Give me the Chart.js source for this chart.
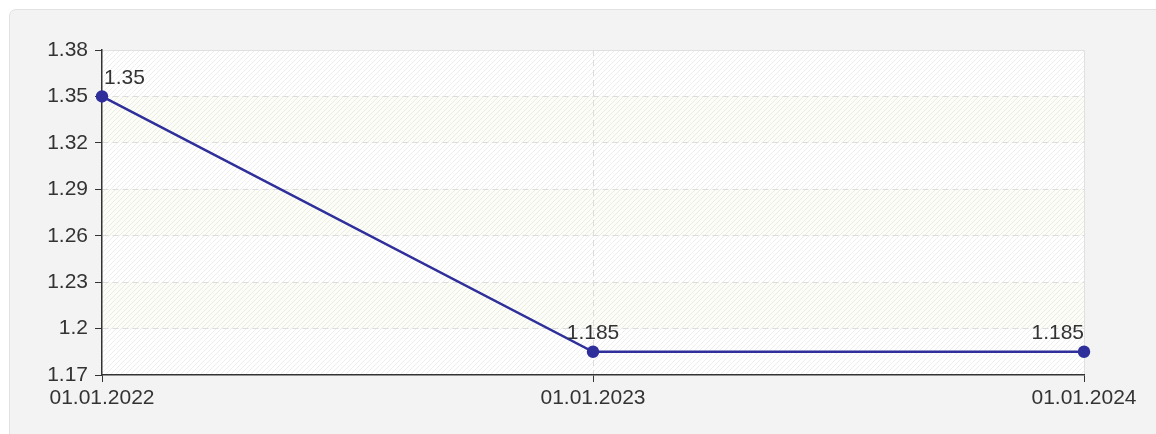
<!DOCTYPE html>
<html>
<head>
<meta charset="utf-8">
<script src="https://cdn.jsdelivr.net/npm/chart.js@4"></script>
<style>
  html, body { margin: 0; padding: 0; background: #fff; }
  #wrap { position: relative; width: 1156px; height: 434px; overflow: hidden; }
  #panel {
    position: absolute; left: 9px; top: 9px; width: 1160px; height: 440px;
    background: #f3f3f3; border: 1px solid #e2e2e2; border-radius: 7px;
  }
  #chart { position: absolute; left: 0; top: 0; }
</style>
</head>
<body>
<div id="wrap">
  <div id="panel"></div>
  <canvas id="chart" width="1156" height="434"></canvas>
</div>
<script>
const dates = ['01.01.2022', '01.01.2023', '01.01.2024'];
const values = [1.35, 1.185, 1.185];
const yTicks = [1.17, 1.2, 1.23, 1.26, 1.29, 1.32, 1.35, 1.38];

const textColor = '#333333';
const lineColor = '#2f2f9c';
const font = { family: '"Liberation Sans", Arial, sans-serif', size: 21 };

// hatch pattern for the plot background
function makeHatch() {
    const c = document.createElement('canvas');
    c.width = 5; c.height = 5;
    const g = c.getContext('2d');
    g.strokeStyle = 'rgba(0,0,0,0.065)';
    g.lineWidth = 1;
    g.beginPath();
    g.moveTo(-1, 6); g.lineTo(6, -1);
    g.stroke();
    return c;
}

const plotBackground = {
    id: 'plotBackground',
    beforeDraw(chart) {
        const { ctx, chartArea: a, scales: { y } } = chart;
        ctx.save();
        // alternating white / faint yellow bands, top band white
        for (let i = 0; i < yTicks.length - 1; i++) {
            const top = y.getPixelForValue(yTicks[yTicks.length - 1 - i]);
            const bot = y.getPixelForValue(yTicks[yTicks.length - 2 - i]);
            ctx.fillStyle = i % 2 === 1 ? '#fcfdf6' : '#ffffff';
            ctx.fillRect(a.left, top, a.right - a.left, bot - top);
        }
        ctx.fillStyle = ctx.createPattern(makeHatch(), 'repeat');
        ctx.fillRect(a.left, a.top, a.right - a.left, a.bottom - a.top);
        // light frame top/right
        ctx.strokeStyle = '#e0e0e0';
        ctx.lineWidth = 1;
        ctx.beginPath();
        ctx.moveTo(a.left, a.top + 0.5);
        ctx.lineTo(a.right + 0.5, a.top + 0.5);
        ctx.lineTo(a.right + 0.5, a.bottom);
        ctx.stroke();
        ctx.restore();
    }
};

const pointLabels = {
    id: 'pointLabels',
    afterDatasetsDraw(chart) {
        const { ctx } = chart;
        const meta = chart.getDatasetMeta(0);
        ctx.save();
        ctx.font = font.size + 'px ' + font.family;
        ctx.fillStyle = textColor;
        ctx.textBaseline = 'bottom';
        meta.data.forEach((pt, i) => {
            const label = String(values[i]);
            if (i === 0) {
                ctx.textAlign = 'left';
                ctx.fillText(label, pt.x + 2, pt.y - 8);
            } else if (i === meta.data.length - 1) {
                ctx.textAlign = 'right';
                ctx.fillText(label, pt.x, pt.y - 8);
            } else {
                ctx.textAlign = 'center';
                ctx.fillText(label, pt.x, pt.y - 8);
            }
        });
        ctx.restore();
    }
};

new Chart(document.getElementById('chart'), {
    type: 'line',
    data: {
        labels: dates,
        datasets: [{
            data: values,
            borderColor: lineColor,
            backgroundColor: lineColor,
            borderWidth: 2.5,
            pointRadius: 5,
            pointHoverRadius: 5,
            tension: 0
        }]
    },
    options: {
        responsive: false,
        animation: false,
        layout: { padding: { top: 50, right: 72, left: 0, bottom: 0 } },
        plugins: {
            legend: { display: false },
            tooltip: { enabled: false }
        },
        scales: {
            x: {
                offset: false,
                afterFit: s => { s.height = 59; },
                grid: {
                    color: c => c.index === 1 ? '#dcdcdc' : 'rgba(0,0,0,0)',
                    tickColor: textColor,
                    tickLength: 7,
                    lineWidth: 1
                },
                border: { color: textColor, width: 1.5, dash: [6, 4] },
                ticks: { color: textColor, font: font, padding: 4, maxRotation: 0 }
            },
            y: {
                min: 1.17,
                max: 1.38,
                afterFit: s => { s.width = 102; },
                afterBuildTicks: s => { s.ticks = yTicks.map(v => ({ value: v })); },
                grid: {
                    color: c => (c.index === 0 || c.index === yTicks.length - 1) ? 'rgba(0,0,0,0)' : '#dcdcdc',
                    tickColor: textColor,
                    tickLength: 7,
                    lineWidth: 1
                },
                border: { color: textColor, width: 1.5, dash: [6, 4] },
                ticks: {
                    color: textColor,
                    font: font,
                    padding: 7,
                    callback: v => String(+v.toFixed(2))
                }
            }
        }
    },
    plugins: [plotBackground, pointLabels]
});
</script>
</body>
</html>
